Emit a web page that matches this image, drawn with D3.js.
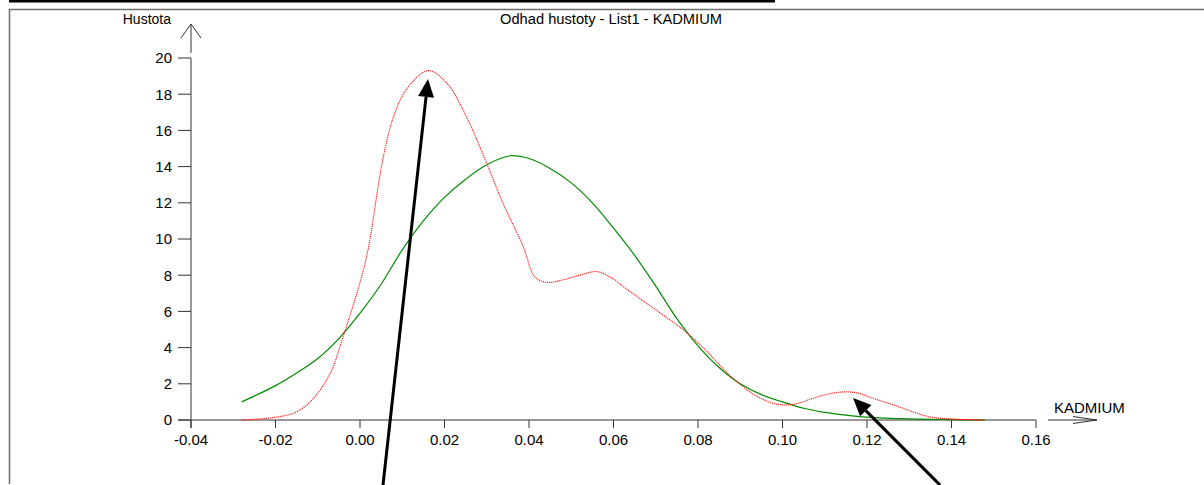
<!DOCTYPE html>
<html>
<head>
<meta charset="utf-8">
<script src="https://cdn.jsdelivr.net/npm/d3@7"></script>
<style>
  html, body { margin: 0; padding: 0; background: #fff; }
  #chart { width: 1204px; height: 485px; }
  text { font-family: "Liberation Sans", Arial, sans-serif; fill: #000; }
</style>
</head>
<body>
<div id="chart"></div>
<script>
// -------------------------------
// Data
// -------------------------------
const titleText = "Odhad hustoty - List1 - KADMIUM";
const xLabel = "KADMIUM";
const yLabel = "Hustota";

const xTicks = [-0.04, -0.02, 0.0, 0.02, 0.04, 0.06, 0.08, 0.10, 0.12, 0.14, 0.16];
const xTickLabels = ["-0.04", "-0.02", "0.00", "0.02", "0.04", "0.06", "0.08", "0.10", "0.12", "0.14", "0.16"];
const yTicks = [0, 2, 4, 6, 8, 10, 12, 14, 16, 18, 20];

// normal density (green)
const normalX = [-0.028, -0.02, -0.015, -0.01, -0.005, 0.0, 0.005, 0.01, 0.015, 0.02, 0.025,
  0.03, 0.0355, 0.04, 0.045, 0.05, 0.055, 0.06, 0.065, 0.07, 0.075, 0.08, 0.085, 0.09,
  0.095, 0.10, 0.105, 0.11, 0.115, 0.12, 0.13, 0.14, 0.148];
const normalY = [1.0, 1.9, 2.6, 3.4, 4.5, 5.9, 7.5, 9.4, 11.0, 12.3, 13.3,
  14.1, 14.6, 14.45, 13.9, 13.1, 12.0, 10.6, 9.1, 7.4, 5.6, 4.1, 2.9, 2.0,
  1.4, 1.0, 0.65, 0.42, 0.27, 0.16, 0.06, 0.02, 0.0];

// kernel estimate (red dotted)
const kernelX = [-0.028, -0.02, -0.015, -0.011, -0.007, -0.004, 0.0, 0.0019, 0.0054, 0.008, 0.0111,
  0.0161, 0.0206, 0.0253, 0.0296, 0.0338, 0.0386, 0.0414, 0.0443, 0.0473, 0.052, 0.056, 0.0592,
  0.0627, 0.0663, 0.0764, 0.0812, 0.0883, 0.094, 0.0982, 0.1011, 0.1041, 0.1072, 0.1112, 0.1143,
  0.1176, 0.1214, 0.1254, 0.1309, 0.1349, 0.1404, 0.1475];
const kernelY = [0.0, 0.15, 0.45, 1.2, 2.6, 4.6, 7.6, 9.4, 14.4, 16.8, 18.3,
  19.3, 18.6, 16.7, 14.4, 12.0, 9.6, 7.9, 7.6, 7.7, 8.0, 8.2, 7.9,
  7.3, 6.7, 5.0, 4.0, 2.3, 1.3, 0.9, 0.83, 0.95, 1.2, 1.45, 1.55,
  1.5, 1.2, 0.9, 0.45, 0.17, 0.05, 0.0];

// annotation arrows, in data units: [tailX, tailY, tipX, tipY]
const pointerArrows = [
  [0.00544, -3.6, 0.0161, 18.84],
  [0.1373, -3.6, 0.1167, 1.22],
];

// -------------------------------
// Layout
// -------------------------------
const svgWidth = 1204;
const svgHeight = 485;

const svg = d3.select("#chart")
  .append("svg")
  .attr("width", svgWidth)
  .attr("height", svgHeight);

// page frame
svg.append("rect").attr("x", 9).attr("y", 0).attr("width", 766).attr("height", 2.5).attr("fill", "#000");
svg.append("line").attr("x1", 9).attr("x2", svgWidth).attr("y1", 9.5).attr("y2", 9.5)
  .attr("stroke", "#6e6e6e").attr("stroke-width", 1.5);
svg.append("line").attr("x1", 9.5).attr("x2", 9.5).attr("y1", 9).attr("y2", 484)
  .attr("stroke", "#6e6e6e").attr("stroke-width", 1.5);

// -------------------------------
// Scales
// -------------------------------
const xScale = d3.scaleLinear().domain([-0.04, 0.16]).range([191, 1036]);
const yScale = d3.scaleLinear().domain([0, 20]).range([420, 58]);

const axisColor = "#333";
const g = svg.append("g");

// y axis
g.append("line")
  .attr("x1", xScale(-0.04)).attr("x2", xScale(-0.04))
  .attr("y1", yScale(20)).attr("y2", yScale(0) + 8)
  .attr("stroke", axisColor);
g.selectAll(".ytick").data(yTicks).join("line")
  .attr("x1", xScale(-0.04) - 13).attr("x2", xScale(-0.04))
  .attr("y1", d => yScale(d)).attr("y2", d => yScale(d))
  .attr("stroke", axisColor);
g.selectAll(".ylab").data(yTicks).join("text")
  .attr("x", xScale(-0.04) - 19)
  .attr("y", d => yScale(d))
  .attr("dy", "0.36em")
  .attr("text-anchor", "end")
  .attr("font-size", 15)
  .text(d => d);

// x axis
g.append("line")
  .attr("x1", xScale(-0.04) - 13).attr("x2", xScale(0.16))
  .attr("y1", yScale(0)).attr("y2", yScale(0))
  .attr("stroke", axisColor);
g.selectAll(".xtick").data(xTicks).join("line")
  .attr("x1", d => xScale(d)).attr("x2", d => xScale(d))
  .attr("y1", yScale(0)).attr("y2", yScale(0) + 8)
  .attr("stroke", axisColor);
g.selectAll(".xlab").data(xTicks).join("text")
  .attr("x", d => xScale(d))
  .attr("y", yScale(0) + 25)
  .attr("text-anchor", "middle")
  .attr("font-size", 15)
  .text((d, i) => xTickLabels[i]);

// axis arrows (open)
const yTop = yScale(20);
g.append("line").attr("x1", xScale(-0.04)).attr("x2", xScale(-0.04))
  .attr("y1", yTop - 5).attr("y2", yTop - 34).attr("stroke", axisColor);
g.append("path")
  .attr("d", `M${xScale(-0.04) - 10},${yTop - 20} L${xScale(-0.04)},${yTop - 34} L${xScale(-0.04) + 10},${yTop - 20}`)
  .attr("fill", "none").attr("stroke", axisColor);

const xEnd = xScale(0.16);
g.append("line").attr("x1", xEnd + 12).attr("x2", xEnd + 61)
  .attr("y1", yScale(0)).attr("y2", yScale(0)).attr("stroke", axisColor);
g.append("path")
  .attr("d", `M${xEnd + 37},${yScale(0) - 3.5} L${xEnd + 61},${yScale(0)} L${xEnd + 37},${yScale(0) + 3.5}`)
  .attr("fill", "none").attr("stroke", axisColor);

// labels
g.append("text").attr("x", 171).attr("y", 24).attr("text-anchor", "end")
  .attr("font-size", 14).text(yLabel);
g.append("text").attr("x", xEnd + 18).attr("y", yScale(0) - 7.5)
  .attr("font-size", 15).text(xLabel);
g.append("text").attr("x", 611).attr("y", 24).attr("text-anchor", "middle")
  .attr("font-size", 14.7).text(titleText);

// -------------------------------
// Curves
// -------------------------------
const lineGen = d3.line()
  .x(d => xScale(d[0]))
  .y(d => yScale(d[1]))
  .curve(d3.curveCatmullRom.alpha(0.5));

g.append("path")
  .datum(d3.zip(normalX, normalY))
  .attr("d", lineGen)
  .attr("fill", "none")
  .attr("stroke", "#008a00")
  .attr("stroke-width", 1.2);

g.append("path")
  .datum(d3.zip(kernelX, kernelY))
  .attr("d", lineGen)
  .attr("fill", "none")
  .attr("stroke", "#ff1a1a")
  .attr("stroke-width", 1.1)
  .attr("stroke-dasharray", "1.2 0.8");

// -------------------------------
// Pointer arrows
// -------------------------------
pointerArrows.forEach(a => {
  const x1 = xScale(a[0]), y1 = yScale(a[1]);
  const x2 = xScale(a[2]), y2 = yScale(a[3]);
  const ang = Math.atan2(y2 - y1, x2 - x1);
  const headLen = 18, headHalf = 8;
  const bx = x2 - headLen * Math.cos(ang), by = y2 - headLen * Math.sin(ang);
  g.append("line")
    .attr("x1", x1).attr("y1", y1).attr("x2", bx).attr("y2", by)
    .attr("stroke", "#000").attr("stroke-width", 3);
  const px = -Math.sin(ang) * headHalf, py = Math.cos(ang) * headHalf;
  g.append("path")
    .attr("d", `M${x2},${y2} L${bx + px},${by + py} L${bx - px},${by - py} Z`)
    .attr("fill", "#000");
});
</script>
</body>
</html>
